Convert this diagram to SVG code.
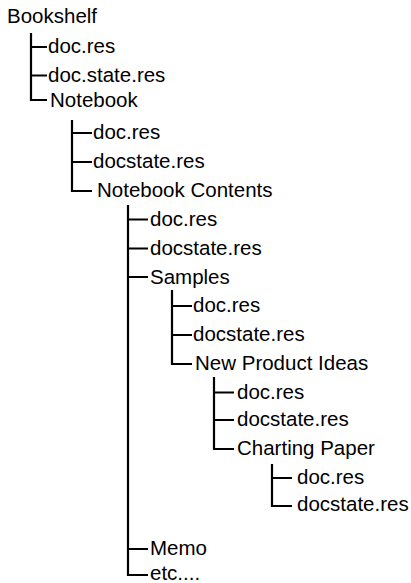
<svg xmlns="http://www.w3.org/2000/svg" width="411" height="583" viewBox="0 0 411 583">
<style>
text { font-family: "Liberation Sans", Arial, Helvetica, sans-serif; font-size: 20.5px; fill: #000; }
.c { fill: none; stroke: #000; stroke-width: 2.2; }
</style>
<rect width="411" height="583" fill="#fff"/>
<g id="connectors">
  <path class="c" d="M31,33 V100 H47 M31,47 H47 M31,75.5 H47"/>
  <path class="c" d="M72,120 V191 H92 M72,133 H92 M72,162 H92"/>
  <path class="c" d="M128,205 V575 H148 M128,219.5 H148 M128,248.5 H148 M128,277 H148 M128,549 H148"/>
  <path class="c" d="M172,290 V364 H192 M172,306 H192 M172,335 H192"/>
  <path class="c" d="M214,377 V449 H234 M214,392.5 H234 M214,420 H234"/>
  <path class="c" d="M272,464 V506 H292 M272,478 H292"/>
</g>
<g id="bookshelf"><text x="7" y="23">Bookshelf</text></g>
<g id="bookshelf-doc"><text x="48" y="53">doc.res</text></g>
<g id="bookshelf-docstate"><text x="48" y="82">doc.state.res</text></g>
<g id="notebook"><text x="50" y="107">Notebook</text></g>
<g id="notebook-doc"><text x="93" y="139">doc.res</text></g>
<g id="notebook-docstate"><text x="93" y="168">docstate.res</text></g>
<g id="notebook-contents"><text x="97" y="197">Notebook Contents</text></g>
<g id="contents-doc"><text x="150" y="226">doc.res</text></g>
<g id="contents-docstate"><text x="150" y="255">docstate.res</text></g>
<g id="samples"><text x="150" y="283.5">Samples</text></g>
<g id="samples-doc"><text x="193" y="312">doc.res</text></g>
<g id="samples-docstate"><text x="193" y="341">docstate.res</text></g>
<g id="new-product-ideas"><text x="195" y="370">New Product Ideas</text></g>
<g id="ideas-doc"><text x="237" y="399">doc.res</text></g>
<g id="ideas-docstate"><text x="237" y="426">docstate.res</text></g>
<g id="charting-paper"><text x="237" y="455">Charting Paper</text></g>
<g id="charting-doc"><text x="297" y="484">doc.res</text></g>
<g id="charting-docstate"><text x="297" y="511">docstate.res</text></g>
<g id="memo"><text x="150" y="555">Memo</text></g>
<g id="etc"><text x="150" y="580">etc....</text></g>
</svg>
